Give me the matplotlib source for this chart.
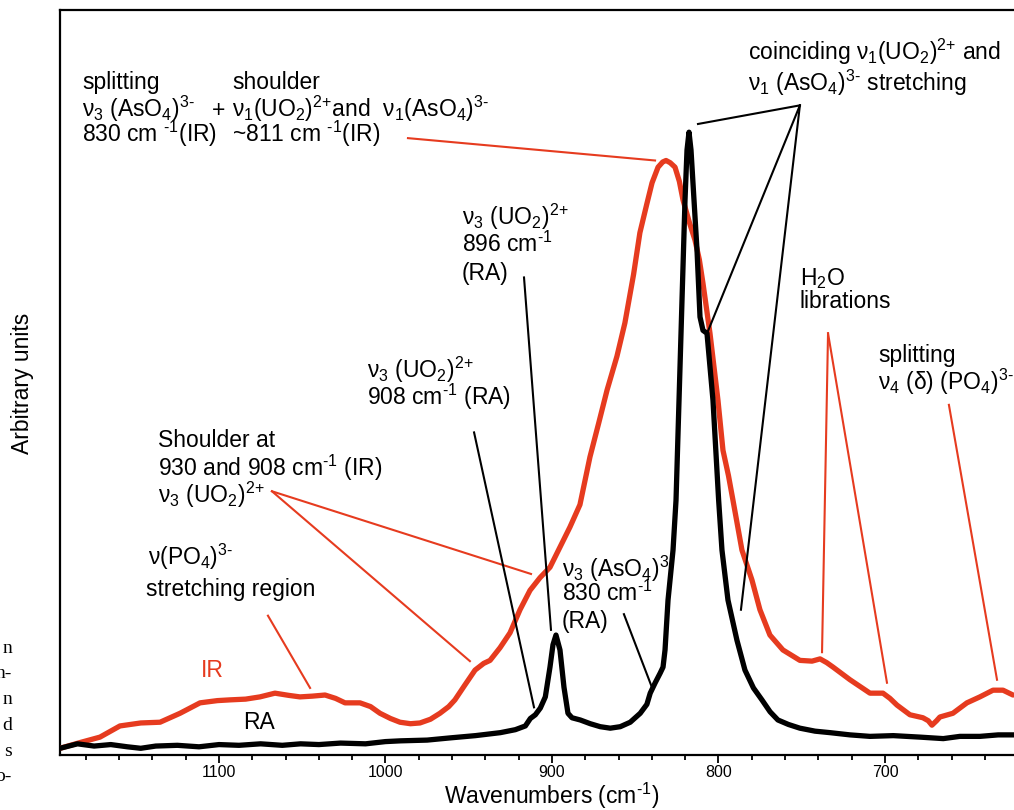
import matplotlib.pyplot as plt
from matplotlib.ticker import MultipleLocator

plt.rcParams['font.family'] = ['Liberation Sans', 'DejaVu Sans']
plt.rcParams['mathtext.fontset'] = 'custom'
plt.rcParams['mathtext.rm'] = 'Liberation Sans'
plt.rcParams['mathtext.it'] = 'Liberation Sans:italic'
plt.rcParams['mathtext.bf'] = 'Liberation Sans:bold'

# Raman (RA) spectrum, wavenumber (cm-1) / arbitrary intensity
ra_wn = [1195.5, 1185, 1175, 1165, 1155, 1147, 1138, 1125, 1112, 1100,
         1088, 1075, 1062, 1051, 1040, 1027, 1012, 1000, 991, 975,
         961, 946, 931, 922, 916, 913, 910, 907, 904, 901.2,
         899.4, 897.6, 895.2, 892.8, 890.4, 888, 883, 877, 871, 865,
         859, 853, 847, 843, 841, 838, 835, 833.3, 832.1, 830.3,
         827.3, 825.5, 823.7, 821.9, 820.1, 818.9, 817.7, 816.5, 814.7, 812.9,
         811.1, 809.3, 806.9, 803.3, 799.9, 797.9, 794.3, 788.9, 784.1, 779,
         773.9, 769, 764.3, 758, 751.1, 742, 733, 721, 709, 695,
         679, 665, 655, 643, 632, 622.5]
ra_int = [0.9, 1.5, 1.2, 1.4, 1.1, 0.9, 1.2, 1.3, 1.1, 1.4,
          1.3, 1.5, 1.3, 1.5, 1.4, 1.6, 1.5, 1.8, 1.9, 2.0,
          2.3, 2.6, 3.0, 3.4, 3.9, 4.9, 5.4, 6.3, 7.8, 11.8,
          14.8, 16.1, 14.1, 9.1, 5.6, 5.0, 4.7, 4.2, 3.8, 3.6,
          3.8, 4.4, 5.6, 6.8, 8.3, 9.7, 11.0, 11.8, 14.1, 20.8,
          27.5, 34.2, 47.6, 61.1, 74.5, 81.2, 83.6, 81.2, 74.5, 67.8,
          58.8, 57.0, 56.6, 47.6, 34.2, 27.5, 20.8, 15.4, 11.4, 9.0,
          7.4, 5.8, 4.7, 4.1, 3.6, 3.2, 3.0, 2.7, 2.5, 2.6,
          2.4, 2.2, 2.5, 2.5, 2.7, 2.7]

# Infrared (IR) spectrum
ir_wn = [1195.5, 1183, 1171.5, 1159.5, 1147, 1135.4, 1123.4, 1111.4, 1101, 1093.4,
         1084, 1075.4, 1066.4, 1058, 1051.4, 1044, 1036.3, 1030, 1024.3, 1015.3,
         1009, 1003.3, 997, 991.3, 985, 979.3, 973, 967.3, 962, 958.3,
         952.3, 946.2, 941, 937.2, 931.2, 925.2, 919.2, 913.2, 907.2, 901.2,
         895.2, 889.2, 883.2, 877.2, 872, 866.9, 861, 856.2, 851, 847.2,
         843, 839.9, 836.3, 833.5, 831.5, 829, 826.1, 823.5, 821.3, 817.5,
         814.1, 811.5, 809.3, 805.1, 800.3, 797.3, 794, 791.3, 785.9, 779.9,
         775.1, 769.1, 761.3, 751.1, 743.8, 739, 735, 731.2, 721, 709,
         701.2, 697, 692.8, 685, 677.2, 674, 671.8, 669, 667, 659.2,
         650.8, 643, 635.1, 629.1, 623.1]
ir_int = [0.9, 1.7, 2.4, 3.9, 4.3, 4.4, 5.6, 7.0, 7.3, 7.4,
          7.5, 7.8, 8.3, 8.0, 7.8, 7.9, 8.05, 7.6, 7.0, 7.0,
          6.5, 5.6, 4.9, 4.4, 4.2, 4.3, 4.8, 5.6, 6.5, 7.4,
          9.4, 11.4, 12.3, 12.7, 14.4, 16.4, 19.5, 22.1, 23.8, 25.2,
          27.9, 30.6, 33.6, 40.0, 44.5, 49.0, 53.5, 58.0, 64.5, 70.1,
          74.0, 76.8, 78.9, 79.6, 79.8, 79.5, 78.9, 77.0, 74.5, 71.5,
          69.1, 66.5, 63.3, 56.6, 47.6, 40.9, 37.5, 34.2, 27.5, 23.5,
          19.5, 16.1, 14.1, 12.7, 12.6, 12.9, 12.4, 11.8, 10.1, 8.3,
          8.3, 7.6, 6.7, 5.4, 5.0, 4.6, 4.0, 4.6, 5.1, 5.6,
          7.0, 7.8, 8.7, 8.7, 8.05]

RED = '#e63b1f'
FS = 16.5

# charges / exponents written as plain text so no operator spacing is added
M3 = r'$^{\text{3-}}$'
P2 = r'$^{\text{2+}}$'
INV = r'$^{\text{-1}}$'

fig = plt.figure(figsize=(10.14, 8.1), dpi=100)
ax = fig.add_axes([60 / 1014, 55 / 810, 954 / 1014, 745 / 810])

ax.plot(ir_wn, ir_int, color=RED, lw=3.8, solid_capstyle='round', solid_joinstyle='round', zorder=3)
ax.plot(ra_wn, ra_int, color='black', lw=3.8, solid_capstyle='round', solid_joinstyle='round', zorder=4)

ax.set_xlim(1195.5, 622.5)
ax.set_ylim(0, 100)
ax.xaxis.set_major_locator(MultipleLocator(100))
ax.xaxis.set_minor_locator(MultipleLocator(20))
ax.tick_params(axis='x', which='major', direction='out', length=5.5, width=1.3, labelsize=11.5, pad=2)
ax.tick_params(axis='x', which='minor', direction='out', length=3.5, width=1.3)
ax.set_yticks([])
ax.spines['right'].set_visible(False)
for s in ['left', 'bottom', 'top']:
    ax.spines[s].set_linewidth(1.6)

fig.text(552 / 1014, 1 - 804 / 810, 'Wavenumbers (cm' + INV + ')', ha='center', va='baseline', fontsize=FS)
fig.text(22 / 1014, 1 - 383 / 810, 'Arbitrary units', rotation=90, ha='center', va='center', fontsize=FS)

# leader lines
def leader(p0, p1, color):
    ax.plot([p0[0], p1[0]], [p0[1], p1[1]], color=color, lw=1.5, zorder=5, clip_on=False)

leader((986.5, 82.8), (838.1, 79.8), RED)
leader((1068.2, 35.4), (912.6, 24.3), RED)
leader((1068.2, 35.4), (949.3, 12.6), RED)
leader((1070.6, 18.7), (1045.3, 9.0), RED)
leader((734.2, 56.6), (737.8, 13.8), RED)
leader((734.2, 56.6), (698.8, 9.7), RED)
leader((661.6, 47.0), (632.7, 10.1), RED)

leader((751.1, 87.2), (812.3, 84.7), 'black')
leader((751.1, 87.2), (806.3, 56.9), 'black')
leader((751.1, 87.2), (786.5, 19.5), 'black')
leader((916.8, 64.1), (900.6, 16.8), 'black')
leader((946.8, 43.3), (910.8, 6.4), 'black')
leader((856.8, 18.9), (840.0, 9.1), 'black')

# annotation text blocks: (x, [(baseline, text), ...])
def block(x, lines, color='black'):
    for y, s in lines:
        ax.text(x, y, s, ha='left', va='baseline', fontsize=FS, color=color, zorder=6)

block(1182.3, [(89.4, 'splitting'),
               (85.6, r'ν$_3$ (AsO$_4$)' + M3),
               (82.3, '830 cm ' + INV + '(IR)')])
block(1104.2, [(85.6, '+')])
block(1092.2, [(89.4, 'shoulder'),
               (85.6, r'ν$_1$(UO$_2$)' + P2 + r'and  ν$_1$(AsO$_4$)' + M3),
               (82.3, '~811 cm ' + INV + '(IR)')])
block(782.3, [(93.3, r'coinciding ν$_1$(UO$_2$)' + P2 + ' and'),
              (89.2, r'ν$_1$ (AsO$_4$)' + M3 + ' stretching')])
block(954.1, [(71.1, r'ν$_3$ (UO$_2$)' + P2),
              (67.5, '896 cm' + INV),
              (63.7, '(RA)')])
block(1011.1, [(50.6, r'ν$_3$ (UO$_2$)' + P2),
               (47.0, '908 cm' + INV + ' (RA)')])
block(1136.6, [(41.3, 'Shoulder at'),
               (37.4, '930 and 908 cm' + INV + ' (IR)'),
               (33.8, r'ν$_3$ (UO$_2$)' + P2)])
block(1142.6, [(25.5, r'ν(PO$_4$)' + M3)])
block(1143.8, [(21.3, 'stretching region')])
block(894.0, [(23.9, r'ν$_3$ (AsO$_4$)' + M3),
              (20.7, '830 cm' + INV),
              (17.0, '(RA)')])
block(751.1, [(63.1, r'H$_2$O'),
              (60.0, 'librations')])
block(704.2, [(52.7, 'splitting'),
              (49.0, r'ν$_4$ (δ) (PO$_4$)' + M3)])

ax.text(1104.2, 11.4, 'IR', color=RED, ha='center', va='center', fontsize=FS)
ax.text(1076.0, 4.4, 'RA', color='black', ha='center', va='center', fontsize=FS)

# cut-off caption fragments at the left edge
for y, s in zip([653, 678, 704, 730, 756, 781], ['n', 'n-', 'n', 'd', 's', 'o-']):
    fig.text(12 / 1014, 1 - y / 810, s, ha='right', va='baseline', fontsize=14,
             family=['Liberation Serif', 'DejaVu Serif'])

fig.savefig('out.png', dpi=100)
